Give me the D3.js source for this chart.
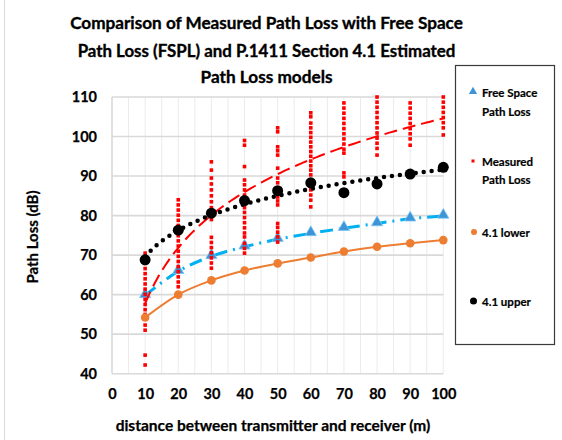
<!DOCTYPE html>
<html>
<head>
<meta charset="utf-8">
<script src="https://cdn.jsdelivr.net/npm/d3@7"></script>
<style>
  html, body { margin: 0; padding: 0; background: #fff; }
  svg { display: block; font-family: Lato, "Open Sans", sans-serif; font-weight: bold; }
</style>
</head>
<body>
<svg id="chart" width="562" height="440"></svg>
<script>
// ---------------- data ----------------
const titleLines = [
  "Comparison of Measured Path Loss with Free Space",
  "Path Loss (FSPL) and P.1411 Section 4.1 Estimated",
  "Path Loss models"
];
const xTitle = "distance between transmitter and receiver (m)";
const yTitle = "Path Loss (dB)";
const xTicks = [0, 10, 20, 30, 40, 50, 60, 70, 80, 90, 100];
const yTicks = [40, 50, 60, 70, 80, 90, 100, 110];
const distances = [10, 20, 30, 40, 50, 60, 70, 80, 90, 100];
const fspl    = [59.8, 65.9, 69.7, 72.1, 74.0, 75.5, 76.8, 78.0, 79.2, 79.9];
const lower41 = [54.2, 60.0, 63.6, 66.1, 67.9, 69.4, 70.9, 72.1, 73.0, 73.8];
const upper41 = [68.8, 76.3, 80.6, 83.8, 86.3, 88.3, 85.8, 88.0, 90.5, 92.2];
// measured path loss samples, one list per distance
const measured10  = [70.5, 69.2, 67.9, 66.6, 65.3, 64.0, 62.7, 61.4, 60.1, 58.8, 57.5, 56.2, 55.0, 52.3, 51.0, 44.7, 42.2];
const measured20  = [84.0, 82.7, 81.4, 80.1, 78.8, 77.5, 76.2, 74.9, 73.6, 72.3, 71.0, 69.7, 68.4, 67.1, 65.8, 64.5, 63.2, 62.0];
const measured30  = [93.6, 91.5, 89.5, 88.0, 86.5, 85.0, 83.5, 82.0, 80.5, 79.0, 74.5, 73.2, 71.9, 70.6, 69.3, 68.0, 66.7];
const measured40  = [99.0, 97.8, 92.4, 89.0, 87.8, 86.5, 85.2, 83.0, 82.0, 80.8, 79.5, 78.2, 76.9, 75.6, 74.6, 73.0, 71.7, 70.5];
const measured50  = [102.2, 101.2, 97.4, 96.4, 95.3, 92.0, 89.5, 88.3, 87.0, 84.7, 83.7, 82.7, 78.0, 77.0, 75.8, 74.6, 73.3];
const measured60  = [106.0, 105.0, 103.4, 102.2, 101.0, 99.8, 98.6, 97.4, 96.2, 95.0, 93.8, 92.6, 91.5, 90.3, 89.0, 87.7, 86.5, 85.2, 83.9, 82.2];
const measured70  = [108.5, 107.2, 105.9, 104.6, 103.3, 102.0, 100.7, 99.4, 98.1, 96.8, 95.8, 90.8, 89.8];
const measured80  = [110.0, 108.7, 107.4, 106.1, 104.8, 103.5, 102.2, 100.9, 99.6, 98.3, 97.0, 95.3];
const measured90  = [108.5, 107.2, 105.9, 104.6, 103.3, 102.0, 100.7, 99.4, 97.8];
const measured100 = [110.0, 108.7, 107.4, 106.1, 104.8, 103.5, 102.2, 100.4];
const measuredByDistance = [measured10, measured20, measured30, measured40, measured50,
                            measured60, measured70, measured80, measured90, measured100];
const legendLabels = [["Free Space", "Path Loss"], ["Measured", "Path Loss"], ["4.1 lower"], ["4.1 upper"]];

// ---------------- setup ----------------
const svg = d3.select("#chart");
const L = 112, R = 443.3, T = 97, B = 373.7;
const x = d3.scaleLinear().domain([0, 100]).range([L, R]);
const y = d3.scaleLinear().domain([40, 110]).range([B, T]);

const cBlueLine = "#00B0F0", cBlueMark = "#3D95D8", cRed = "#FF0000", cOrange = "#ED7D31", cBlack = "#000000";

// chart border (left edge)
svg.append("line").attr("x1", 4.5).attr("x2", 4.5).attr("y1", 0).attr("y2", 440)
  .attr("stroke", "#d9d9d9").attr("stroke-width", 1);

function fit(sel, w) {
  const node = sel.node();
  const fs = parseFloat(sel.attr("font-size"));
  const len = node.getComputedTextLength();
  if (len > 0) sel.attr("font-size", (fs * w / len).toFixed(2));
}

// title
const titleY = [28.5, 56.5, 82.5];
const titleW = [393, 378, 132];
titleLines.forEach((t, i) => {
  const s = svg.append("text").attr("x", 266.5).attr("y", titleY[i]).attr("text-anchor", "middle")
    .attr("font-size", 18).attr("fill", "#000").attr("stroke", "#000").attr("stroke-width", 0.35).text(t);
  fit(s, titleW[i]);
});

// gridlines: vertical every 5, horizontal every 10
const gx = svg.append("g");
gx.selectAll("line.v").data(d3.range(5, 101, 5)).join("line")
  .attr("x1", d => x(d)).attr("x2", d => x(d)).attr("y1", T).attr("y2", B)
  .attr("stroke", "#ebebeb").attr("stroke-width", 1);
gx.selectAll("line.h").data(yTicks).join("line")
  .attr("x1", L).attr("x2", R).attr("y1", d => y(d)).attr("y2", d => y(d))
  .attr("stroke", "#d9d9d9").attr("stroke-width", 1.6);
// plot left border
svg.append("line").attr("x1", L).attr("x2", L).attr("y1", T).attr("y2", B)
  .attr("stroke", "#d9d9d9").attr("stroke-width", 1.6);

// axes (labels only)
const yAxis = svg.append("g").attr("transform", `translate(${L},0)`)
  .call(d3.axisLeft(y).tickValues(yTicks).tickSize(0).tickPadding(15));
yAxis.select(".domain").remove();
yAxis.selectAll("text").attr("font-size", 14.5).attr("font-family", "Lato").attr("font-weight", "bold")
  .attr("fill", "#000").attr("stroke", "#000").attr("stroke-width", 0.25);
const xAxis = svg.append("g").attr("transform", `translate(0,${B})`)
  .call(d3.axisBottom(x).tickValues(xTicks).tickSize(0).tickPadding(15));
xAxis.select(".domain").remove();
xAxis.selectAll("text").attr("font-size", 14.5).attr("font-family", "Lato").attr("font-weight", "bold")
  .attr("fill", "#000").attr("stroke", "#000").attr("stroke-width", 0.25);

// axis titles
const xt = svg.append("text").attr("x", 273).attr("y", 431).attr("text-anchor", "middle")
  .attr("font-size", 14).attr("stroke", "#000").attr("stroke-width", 0.25).text(xTitle);
fit(xt, 315);
const yt = svg.append("text").attr("transform", "translate(38,237) rotate(-90)").attr("text-anchor", "middle")
  .attr("font-size", 14).attr("stroke", "#000").attr("stroke-width", 0.25).text(yTitle);
fit(yt, 93);

// log trendline helper (least squares y = a ln x + b)
function logFit(xs, ys) {
  const lx = xs.map(Math.log);
  const mx = d3.mean(lx), my = d3.mean(ys);
  let sxy = 0, sxx = 0;
  lx.forEach((v, i) => { sxy += (v - mx) * (ys[i] - my); sxx += (v - mx) * (v - mx); });
  const a = sxy / sxx;
  return { a, b: my - a * mx };
}
const trendXs = d3.range(10, 100.01, 1);

// FSPL series: dash-dot line + triangles
const lineC = d3.line().x(d => x(d[0])).y(d => y(d[1])).curve(d3.curveMonotoneX);
svg.append("path").datum(distances.map((d, i) => [d, fspl[i]]))
  .attr("d", lineC).attr("fill", "none").attr("stroke", cBlueLine)
  .attr("stroke-width", 3).attr("stroke-dasharray", "13 6 2 6");
const tri = d3.symbol().type(d3.symbolTriangle).size(55);
svg.append("g").selectAll("path").data(distances.map((d, i) => [d, fspl[i]])).join("path")
  .attr("d", tri).attr("transform", d => `translate(${x(d[0])},${y(d[1]) - 1})`)
  .attr("fill", cBlueMark).attr("stroke", "#7cc6f2").attr("stroke-width", 0.8);

// measured points
const mPts = [];
measuredByDistance.forEach((arr, i) => arr.forEach(v => mPts.push([distances[i], v])));
svg.append("g").selectAll("rect").data(mPts).join("rect")
  .attr("x", d => x(d[0]) - 1.8).attr("y", d => y(d[1]) - 1.8)
  .attr("width", 3.6).attr("height", 3.6).attr("fill", cRed);
// measured trendline
const mFit = logFit(mPts.map(d => d[0]), mPts.map(d => d[1]));
const lineS = d3.line().x(d => x(d[0])).y(d => y(d[1]));
svg.append("path").datum(trendXs.map(d => [d, mFit.a * Math.log(d) + mFit.b]))
  .attr("d", lineS).attr("fill", "none").attr("stroke", cRed)
  .attr("stroke-width", 2).attr("stroke-dasharray", "13 6");

// 4.1 lower
svg.append("path").datum(distances.map((d, i) => [d, lower41[i]]))
  .attr("d", lineC).attr("fill", "none").attr("stroke", cOrange).attr("stroke-width", 2);
svg.append("g").selectAll("circle").data(distances.map((d, i) => [d, lower41[i]])).join("circle")
  .attr("cx", d => x(d[0])).attr("cy", d => y(d[1])).attr("r", 4.3).attr("fill", cOrange);

// 4.1 upper trendline (dotted) + markers
const uFit = logFit(distances, upper41);
svg.append("path").datum(trendXs.map(d => [d, uFit.a * Math.log(d) + uFit.b]))
  .attr("d", lineS).attr("fill", "none").attr("stroke", cBlack)
  .attr("stroke-width", 4.5).attr("stroke-linecap", "round").attr("stroke-dasharray", "0 8");
svg.append("g").selectAll("circle").data(distances.map((d, i) => [d, upper41[i]])).join("circle")
  .attr("cx", d => x(d[0])).attr("cy", d => y(d[1])).attr("r", 5.5).attr("fill", cBlack);

// legend
const lg = svg.append("g");
lg.append("rect").attr("x", 455.5).attr("y", 65.5).attr("width", 99).attr("height", 279)
  .attr("fill", "#fff").attr("stroke", "#3a3a3a").attr("stroke-width", 1.2);
const legY = [92.5, 161, 232, 301];
legendLabels.forEach((lines, i) => {
  const g = lg.append("g");
  if (i === 0) g.append("path").attr("d", d3.symbol().type(d3.symbolTriangle).size(30))
      .attr("transform", `translate(473,${legY[i] - 1})`).attr("fill", cBlueMark);
  if (i === 1) g.append("rect").attr("x", 471.5).attr("y", legY[i] - 1.5).attr("width", 3).attr("height", 3).attr("fill", cRed);
  if (i === 2) g.append("circle").attr("cx", 474).attr("cy", legY[i]).attr("r", 3).attr("fill", cOrange);
  if (i === 3) g.append("circle").attr("cx", 473.5).attr("cy", legY[i]).attr("r", 3.5).attr("fill", cBlack);
  lines.forEach((t, j) => {
    g.append("text").attr("x", 482).attr("y", legY[i] + 4.5 + j * 18.5)
      .attr("font-size", 11.5).attr("fill", "#000").attr("stroke", "#000").attr("stroke-width", 0.2).text(t);
  });
});
</script>
</body>
</html>
